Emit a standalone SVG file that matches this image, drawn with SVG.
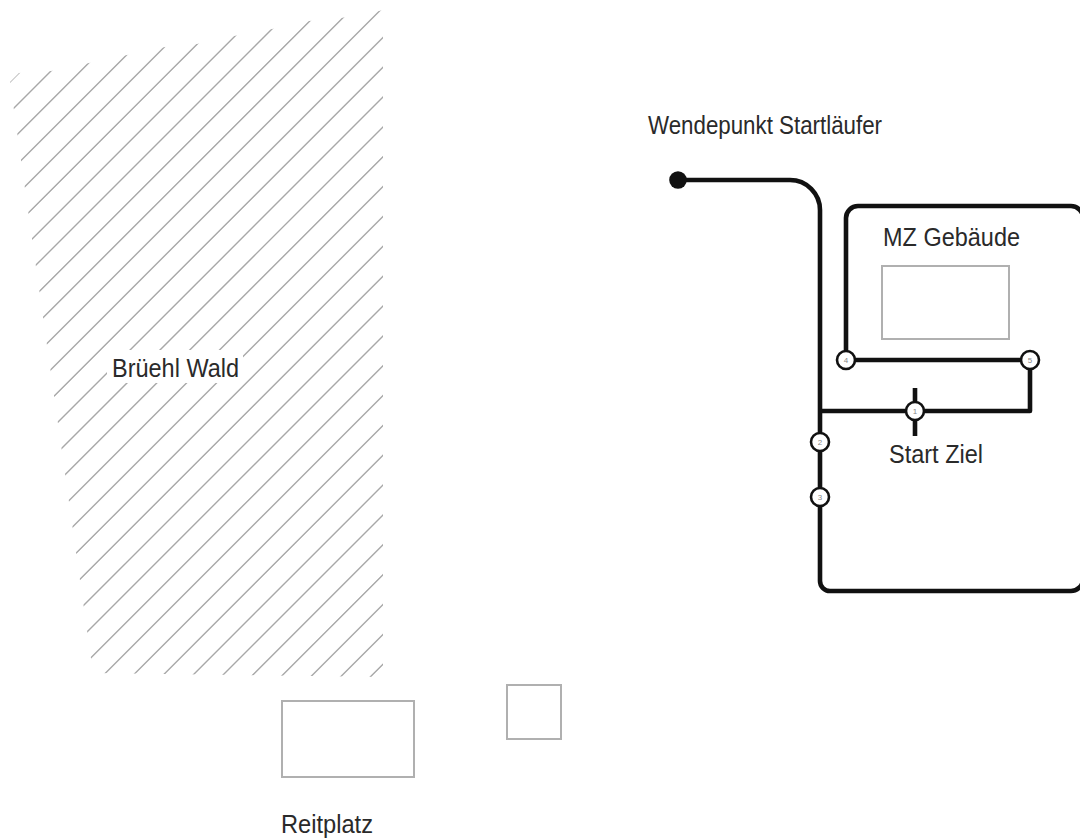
<svg xmlns="http://www.w3.org/2000/svg" width="1080" height="840" viewBox="0 0 1080 840">
<style>
.lbl{font-family:"Liberation Sans",Arial,sans-serif;font-size:25px;fill:#2a2a2a}
.num{font-family:"Liberation Sans",Arial,sans-serif;font-size:8px;fill:#888;text-anchor:middle}
.route{fill:none;stroke:#111;stroke-width:4.6;stroke-linejoin:round}
.cp{fill:#fff;stroke:#111;stroke-width:2.6}
.bld{fill:#fff;stroke:#b0b0b0;stroke-width:2}
.hatch{stroke:#a8a8a8;stroke-width:1.4;stroke-linecap:round;fill:none}
</style>
<defs>
<clipPath id="waldClip">
<polygon points="10,82 19,73 51,71 89,63 127,55 165,47 197,44 234,36 272,29 309,21 341,18 379,11 383,10 383,677 93,673"/>
</clipPath>
</defs>
<rect width="1080" height="840" fill="#fff"/>
<g id="wald">
<path class="hatch" clip-path="url(#waldClip)" d="M92,0 L-608,700 M121.9,0 L-578.1,700 M151.7,0 L-548.3,700 M181.6,0 L-518.4,700 M211.4,0 L-488.6,700 M241.3,0 L-458.7,700 M271.1,0 L-428.9,700 M301,0 L-399,700 M330.8,0 L-369.2,700 M360.7,0 L-339.3,700 M390.5,0 L-309.5,700 M420.4,0 L-279.6,700 M450.2,0 L-249.8,700 M480.1,0 L-219.9,700 M509.9,0 L-190.1,700 M539.8,0 L-160.2,700 M569.6,0 L-130.4,700 M599.5,0 L-100.5,700 M629.3,0 L-70.7,700 M659.2,0 L-40.8,700 M689,0 L-11,700 M718.9,0 L18.9,700 M748.7,0 L48.7,700 M778.6,0 L78.6,700 M808.4,0 L108.4,700 M838.3,0 L138.3,700 M868.1,0 L168.1,700 M898,0 L198,700 M927.8,0 L227.8,700 M957.7,0 L257.7,700 M987.5,0 L287.5,700 M1017.4,0 L317.4,700 M1047.2,0 L347.2,700"/>
<rect x="107" y="350" width="136" height="33" fill="#fff"/>
<text class="lbl" x="112" y="377" textLength="127" lengthAdjust="spacingAndGlyphs">Brüehl Wald</text>
</g>
<g id="reitplatz">
<rect class="bld" x="282" y="701" width="132" height="76"/>
<text class="lbl" x="281" y="833" textLength="92" lengthAdjust="spacingAndGlyphs">Reitplatz</text>
</g>
<g id="kleines-gebaeude">
<rect class="bld" x="507" y="685" width="54" height="54"/>
</g>
<g id="mz-gebaeude">
<rect class="bld" x="882" y="266" width="127" height="73"/>
<text class="lbl" x="883" y="246" textLength="137" lengthAdjust="spacingAndGlyphs">MZ Gebäude</text>
</g>
<g id="connectors">
<path class="route" d="M678,180 H790 A30,30 0 0 1 820,210 V581 A10,10 0 0 0 830,591 H1071 A12,12 0 0 0 1083,579 V218 A12,12 0 0 0 1071,206 H858 A12,12 0 0 0 846,218 V360"/>
<path class="route" d="M846,360 H1030 V411 H820"/>
<path class="route" d="M915,388 V436"/>
</g>
<g id="wendepunkt">
<circle cx="678" cy="180" r="8.8" fill="#111"/>
<text class="lbl" x="648" y="134" textLength="234" lengthAdjust="spacingAndGlyphs">Wendepunkt Startläufer</text>
</g>
<g id="cp1">
<circle class="cp" cx="915" cy="411" r="9"/>
<text class="num" x="915" y="414">1</text>
</g>
<g id="start-ziel">
<text class="lbl" x="889" y="463" textLength="94" lengthAdjust="spacingAndGlyphs">Start Ziel</text>
</g>
<g id="cp2">
<circle class="cp" cx="820" cy="442" r="9"/>
<text class="num" x="820" y="445">2</text>
</g>
<g id="cp3">
<circle class="cp" cx="820" cy="497" r="9"/>
<text class="num" x="820" y="500">3</text>
</g>
<g id="cp4">
<circle class="cp" cx="846" cy="360" r="9"/>
<text class="num" x="846" y="363">4</text>
</g>
<g id="cp5">
<circle class="cp" cx="1030" cy="360" r="9"/>
<text class="num" x="1030" y="363">5</text>
</g>
</svg>
